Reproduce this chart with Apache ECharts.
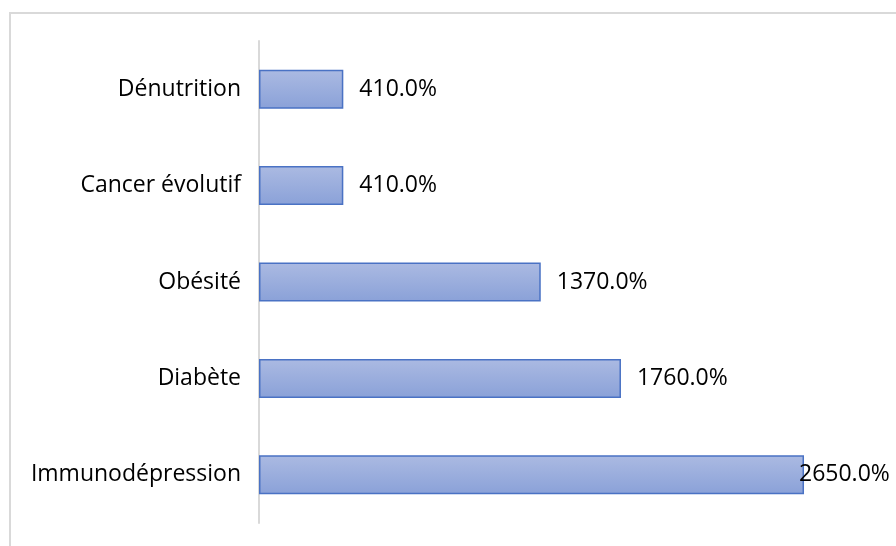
<!DOCTYPE html>
<html>
<head>
<meta charset="utf-8">
<script src="https://cdn.jsdelivr.net/npm/echarts@6/dist/echarts.min.js"></script>
<style>
  html, body { margin: 0; padding: 0; background: #ffffff; }
  #frame {
    position: absolute;
    left: 9px;
    top: 12px;
    width: 900px;
    height: 560px;
    border: 2px solid #d9d9d9;
    box-sizing: border-box;
  }
  #chart { position: absolute; left: 0; top: 0; width: 896px; height: 546px; }
</style>
</head>
<body>
<div id="frame"></div>
<div id="chart"></div>
<script>
// categories, bottom to top
var categories = ["Immunodépression", "Diabète", "Obésité", "Cancer évolutif", "Dénutrition"];
var values = [2650, 1760, 1370, 410, 410];

var chart = echarts.init(document.getElementById("chart"));

var barData = values.map(function (v, i) {
  var item = { value: v };
  // the last label gets pushed back inside the plot, like in the original
  if (i === 0) item.label = { distance: -5 };
  return item;
});

var option = {
  animation: false,
  grid: { left: 259, top: 41, bottom: 23, right: 20 },
  xAxis: {
    type: "value",
    min: 0,
    max: 3000,
    show: false
  },
  yAxis: {
    type: "category",
    data: categories,
    axisLine: { show: true, lineStyle: { color: "#d9d9d9", width: 2 } },
    axisTick: { show: false },
    axisLabel: {
      color: "#000000",
      fontSize: 23,
      fontFamily: "Open Sans",
      margin: 18,
      padding: [4, 0, 0, 0]
    }
  },
  series: [
    {
      type: "bar",
      data: barData,
      barWidth: 39,
      itemStyle: {
        color: new echarts.graphic.LinearGradient(0, 0, 0, 1, [
          { offset: 0, color: "#abbae2" },
          { offset: 1, color: "#8aa1d8" }
        ]),
        borderColor: "#4a72c4",
        borderWidth: 1.5
      },
      label: {
        show: true,
        position: "right",
        distance: 16,
        color: "#000000",
        fontSize: 23,
        fontFamily: "Open Sans",
        padding: [4, 0, 0, 0],
        formatter: function (p) { return p.value.toFixed(1) + "%"; }
      }
    }
  ]
};
chart.setOption(option);
</script>
</body>
</html>
